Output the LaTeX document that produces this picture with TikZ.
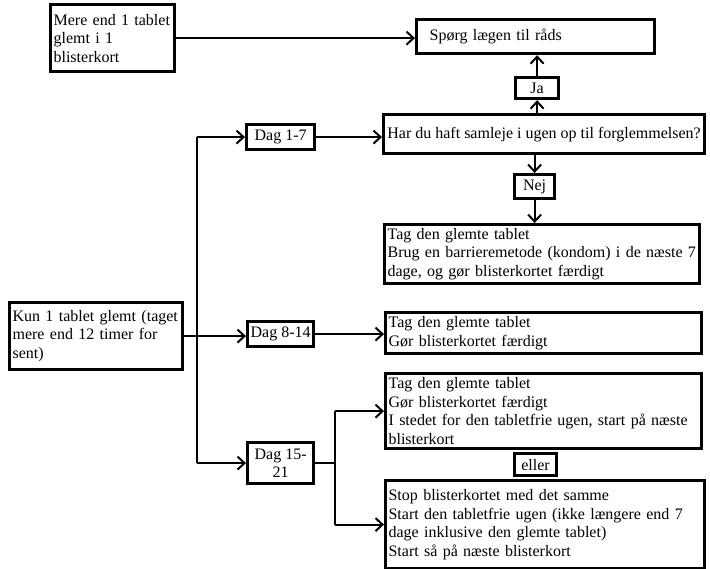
\documentclass[tikz,border=0pt]{standalone}
\usepackage{fontspec}
\setmainfont{Liberation Serif}
\usetikzlibrary{arrows.meta}

\tikzset{
  boks/.style={draw,line width=3.2pt,inner xsep=3pt,inner ysep=0pt,
    font=\fontsize{16}{18.5}\selectfont},
  tekst/.style={boks,anchor=north west,align=left},
  lille/.style={boks,anchor=north west,align=center},
  pil/.style={line width=2pt,->},
  linje/.style={line width=2pt}
}

\begin{document}
\begin{tikzpicture}[x=1pt,y=-1pt,>={Straight Barb[length=7pt,width=13pt]}]
\useasboundingbox (0,0) rectangle (710,569);
% bokse
\node[tekst,text width=118pt,minimum height=67pt] (mere) at (49,3) {Mere end 1 tablet\\glemt i 1\\blisterkort};
\node[tekst,text width=212pt,inner xsep=13pt,minimum height=34pt] (spoerg) at (415,18) {Spørg lægen til råds};
\node[lille,minimum width=43pt,minimum height=21pt] (ja) at (514,76) {Ja};
\node[lille,minimum width=321pt,minimum height=39pt] (spm) at (382,113) {Har du haft samleje i ugen op til forglemmelsen?};
\node[lille,minimum width=40pt,minimum height=24pt] (nej) at (513,173) {Nej};
\node[tekst,text width=309pt,minimum height=59pt] (tag1) at (383,223) {Tag den glemte tablet\\Brug en barrieremetode (kondom) i de næste 7\\dage, og gør blisterkortet færdigt};
\node[lille,minimum width=68pt,minimum height=25pt] (dag1) at (245,123) {Dag 1-7};
\node[tekst,text width=167pt,minimum height=67pt] (kun) at (8,301) {Kun 1 tablet glemt (taget\\mere end 12 timer for\\sent)};
\node[lille,minimum width=66pt,minimum height=25pt] (dag8) at (246,320) {Dag 8-14};
\node[lille,minimum width=66pt,minimum height=41pt] (dag15) at (246,441) {Dag 15-\\21};
\node[tekst,text width=310pt,minimum height=41pt] (tag2) at (384,311) {Tag den glemte tablet\\Gør blisterkortet færdigt};
\node[tekst,text width=310pt,minimum height=75pt] (tag3) at (384,372) {Tag den glemte tablet\\Gør blisterkortet færdigt\\I stedet for den tabletfrie ugen, start på næste\\blisterkort};
\node[lille,minimum width=42pt,minimum height=22pt] (eller) at (513,452) {eller};
\node[tekst,text width=313pt,minimum height=88pt] (stop) at (384,479) {Stop blisterkortet med det samme\\Start den tabletfrie ugen (ikke længere end 7\\dage inklusive den glemte tablet)\\Start så på næste blisterkort};
% forbindelser
\coordinate (stamme) at (197,0);
\coordinate (gren) at (335,0);
\draw[pil] (mere.east) -- (mere.east -| spoerg.west);
\draw[pil] (ja.north) -- (ja.north |- spoerg.south);
\draw[pil] (ja.south |- spm.north) -- (ja.south);
\draw[pil] (nej.north |- spm.south) -- (nej.north);
\draw[pil] (nej.south) -- (nej.south |- tag1.north);
\draw[linje] (stamme |- dag1.west) -- (stamme |- dag15.west);
\draw[pil] (stamme |- dag1.west) -- (dag1.west);
\draw[pil] (stamme |- dag15.west) -- (dag15.west);
\draw[pil] (kun.east) -- (kun.east -| dag8.west);
\draw[pil] (dag1.east) -- (dag1.east -| spm.west);
\draw[pil] (dag8.east) -- (dag8.east -| tag2.west);
\draw[linje] (dag15.east) -- (gren |- dag15.east);
\draw[linje] (gren |- tag3.west) -- (gren |- stop.west);
\draw[pil] (gren |- tag3.west) -- (tag3.west);
\draw[pil] (gren |- stop.west) -- (stop.west);
\end{tikzpicture}
\end{document}
